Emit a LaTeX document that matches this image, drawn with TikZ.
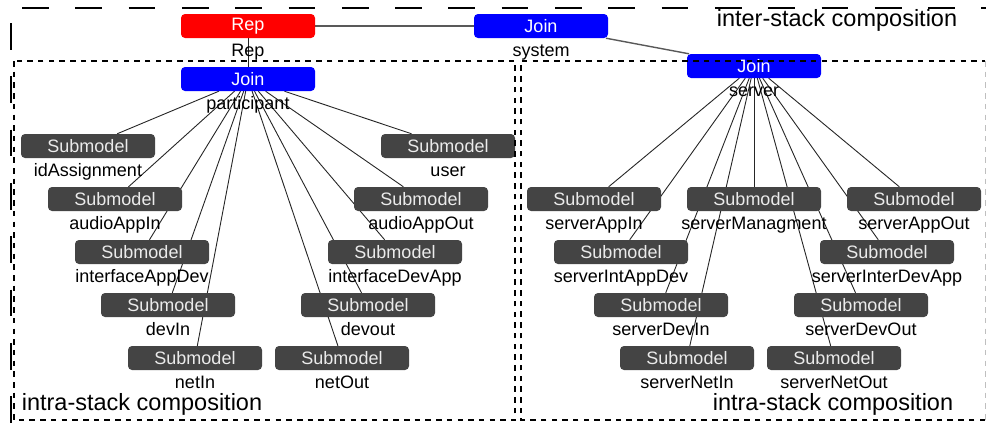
\documentclass[tikz,border=0pt]{standalone}
\usepackage{fontspec}
\setmainfont{Liberation Sans}
\usetikzlibrary{positioning,backgrounds}
\definecolor{repred}{RGB}{255,0,0}
\definecolor{joinblue}{RGB}{0,0,255}
\definecolor{subgray}{RGB}{68,68,68}
\newcommand{\pxfont}[1]{\fontsize{#1}{#1}\selectfont}

\begin{document}
\begin{tikzpicture}[x=1pt,y=-1pt,
  box/.style={rounded corners=4pt, minimum width=134pt, minimum height=24pt, inner sep=0pt, font=\pxfont{18}},
  repbox/.style={box, fill=repred, text=white},
  joinbox/.style={box, fill=joinblue, text=white},
  subbox/.style={box, fill=subgray, text=black!8},
  lab/.style={font=\pxfont{18}, inner sep=1pt, text height=13pt, text depth=4pt},
  heading/.style={font=\pxfont{23.5}, inner sep=0pt, anchor=base},
  ed/.style={black!85, line width=0.9pt},
  tie/.style={black!65, line width=1.4pt},
  outer/.style={line width=2.3pt, dash pattern=on 26.7pt off 26.6pt},
  stack/.style={line width=2pt, dash pattern=on 5.5pt off 5.2pt},
]
\useasboundingbox (0,0) rectangle (986,423);
% top of the hierarchy
\node[repbox]  (rep)  at (248,26) {Rep};
\node[joinbox] (sys)  at (541,26) {Join};
\node[joinbox] (part) at (248,79) {Join};
\node[joinbox] (srv)  at (754,66) {Join};
\node[lab, below=4pt of rep]  (rep-l)  {Rep};
\node[lab, below=4pt of sys]  (sys-l)  {system};
\node[lab, below=4pt of part] (part-l) {participant};
\node[lab, below=4pt of srv]  (srv-l)  {server};
% participant stack
\node[subbox] (idA)    at (88,146)  {Submodel};
\node[subbox] (user)   at (448,146) {Submodel};
\node[subbox] (aIn)    at (115,199) {Submodel};
\node[subbox] (aOut)   at (421,199) {Submodel};
\node[subbox] (ifAD)   at (142,252) {Submodel};
\node[subbox] (ifDA)   at (395,252) {Submodel};
\node[subbox] (devIn)  at (168,305) {Submodel};
\node[subbox] (devOut) at (368,305) {Submodel};
\node[subbox] (netIn)  at (195,358) {Submodel};
\node[subbox] (netOut) at (342,358) {Submodel};
\node[lab, below=4pt of idA]    (idA-l)    {idAssignment};
\node[lab, below=4pt of user]   (user-l)   {user};
\node[lab, below=4pt of aIn]    (aIn-l)    {audioAppIn};
\node[lab, below=4pt of aOut]   (aOut-l)   {audioAppOut};
\node[lab, below=4pt of ifAD]   (ifAD-l)   {interfaceAppDev};
\node[lab, below=4pt of ifDA]   (ifDA-l)   {interfaceDevApp};
\node[lab, below=4pt of devIn]  (devIn-l)  {devIn};
\node[lab, below=4pt of devOut] (devOut-l) {devout};
\node[lab, below=4pt of netIn]  (netIn-l)  {netIn};
\node[lab, below=4pt of netOut] (netOut-l) {netOut};
% server stack
\node[subbox] (sAppIn)  at (594,199) {Submodel};
\node[subbox] (sMgmt)   at (754,199) {Submodel};
\node[subbox] (sAppOut) at (914,199) {Submodel};
\node[subbox] (sIAD)    at (621,252) {Submodel};
\node[subbox] (sIDA)    at (887,252) {Submodel};
\node[subbox] (sDevIn)  at (661,305) {Submodel};
\node[subbox] (sDevOut) at (861,305) {Submodel};
\node[subbox] (sNetIn)  at (687,358) {Submodel};
\node[subbox] (sNetOut) at (834,358) {Submodel};
\node[lab, below=4pt of sAppIn]  (sAppIn-l)  {serverAppIn};
\node[lab, below=4pt of sMgmt]   (sMgmt-l)   {serverManagment};
\node[lab, below=4pt of sAppOut] (sAppOut-l) {serverAppOut};
\node[lab, below=4pt of sIAD]    (sIAD-l)    {serverIntAppDev};
\node[lab, below=4pt of sIDA]    (sIDA-l)    {serverInterDevApp};
\node[lab, below=4pt of sDevIn]  (sDevIn-l)  {serverDevIn};
\node[lab, below=4pt of sDevOut] (sDevOut-l) {serverDevOut};
\node[lab, below=4pt of sNetIn]  (sNetIn-l)  {serverNetIn};
\node[lab, below=4pt of sNetOut] (sNetOut-l) {serverNetOut};
% connectors behind the boxes
\begin{scope}[on background layer]
\draw[tie] (rep)--(sys); \draw[tie] (sys)--(srv); \draw[ed] (rep)--(part);
\draw[ed] (part)--(idA);   \draw[ed] (part)--(user);
\draw[ed] (part)--(aIn);   \draw[ed] (part)--(aOut);
\draw[ed] (part)--(ifAD);  \draw[ed] (part)--(ifDA);
\draw[ed] (part)--(devIn); \draw[ed] (part)--(devOut);
\draw[ed] (part)--(netIn); \draw[ed] (part)--(netOut);
\draw[ed] (srv)--(sAppIn); \draw[ed] (srv)--(sMgmt); \draw[ed] (srv)--(sAppOut);
\draw[ed] (srv)--(sIAD);   \draw[ed] (srv)--(sIDA);
\draw[ed] (srv)--(sDevIn); \draw[ed] (srv)--(sDevOut);
\draw[ed] (srv)--(sNetIn); \draw[ed] (srv)--(sNetOut);
\end{scope}
% composition frames
\draw[outer] (22,8) -- (986,8);
\draw[outer] (11,23) -- (11,423);
\draw[stack] (14,61) rectangle (515,420);
\draw[stack] (985,420) -- (521,420) -- (521,61) -- (985,61);
\draw[stack, black!25, line width=1pt] (985,61) -- (985,420);
\node[heading] (inter) at (837,26)  {inter-stack composition};
\node[heading] (intraL) at (142,410) {intra-stack composition};
\node[heading] (intraR) at (833,410) {intra-stack composition};
\end{tikzpicture}
\end{document}
